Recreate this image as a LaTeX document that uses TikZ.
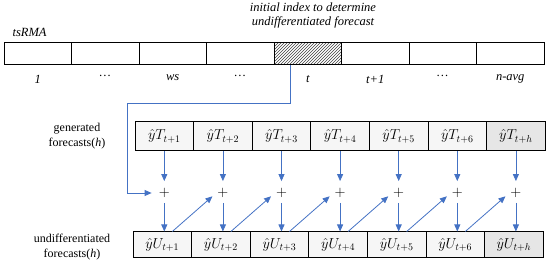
\documentclass[tikz,border=0pt]{standalone}
\usepackage{fontspec}
\setmainfont{Liberation Serif}
\usetikzlibrary{arrows.meta,positioning,patterns}
\definecolor{FlowBlue}{RGB}{68,114,196}
\definecolor{CellGray}{RGB}{246,246,246}
\definecolor{LastGray}{RGB}{230,230,230}
\tikzset{
  slot/.style={draw,line width=1pt,minimum width=67.5pt,minimum height=22pt,inner sep=0pt},
  hatch/.style={pattern=north east lines,pattern color=black!75},
  idx/.style={font=\fontsize{12.5}{14}\selectfont\itshape},
  side/.style={align=center,font=\fontsize{12}{15}\selectfont},
  fcell/.style={draw,line width=1pt,fill=CellGray,minimum width=58.6pt,
    minimum height=29pt,inner sep=0pt,font=\Large},
  ucell/.style={fcell,minimum height=26pt},
  lastcell/.style={fill=LastGray},
  plus/.style={inner sep=1pt,font=\Large},
  flow/.style={-{Triangle[length=7pt,width=6pt]},FlowBlue,line width=0.8pt}
}

\begin{document}
\begin{tikzpicture}[x=1pt,y=-1pt]
  \useasboundingbox (0,0) rectangle (550,264);
  % series array
  \foreach \lab/\sty [count=\i] in {1/,\ldots/,ws/,\ldots/,t/hatch,t+1/,\ldots/,n-avg/}{
    \node[slot,\sty] (c\i) at ({4+67.5*(\i-0.5)},54) {};
    \node[idx,below=6pt of c\i] (l\i) {\lab};
  }
  \node[idx,anchor=west] (series) at (9,32) {tsRMA};
  \node[idx,align=center] (note) at (313,15) {initial index to determine\\undifferentiated forecast};
  % forecast rows
  \node[side] (gen) at (77,136) {generated\\forecasts(\textit{h})};
  \node[side] (und) at (72,247) {undifferentiated\\forecasts(\textit{h})};
  \foreach \s/\sty [count=\i] in {1/,2/,3/,4/,5/,6/,h/lastcell}{
    \node[fcell,\sty] (g\i) at ({135+58.6*(\i-0.5)},136.5) {$\hat{y}T_{t+\s}$};
    \node[plus] (p\i) at ({135+58.6*(\i-0.5)},193) {$+$};
    \node[ucell,\sty] (u\i) at ({133+58.6*(\i-0.5)},245) {$\hat{y}U_{t+\s}$};
    \draw[flow,shorten >=6pt] (g\i.south) -- (p\i.north);
    \draw[flow,shorten <=4pt] (p\i.south) -- (p\i |- u\i.north);
  }
  \foreach \i [evaluate=\i as \j using int(\i+1)] in {1,...,6}
    \draw[flow,shorten >=5pt] ([xshift=10pt]u\i.north) -- (p\j.west);
  % feedback from index t
  \coordinate (fb) at (127,103);
  \draw[flow,shorten >=6pt] ([xshift=-17pt]c5.south) |- (fb) |- (p1.west);
\end{tikzpicture}
\end{document}
